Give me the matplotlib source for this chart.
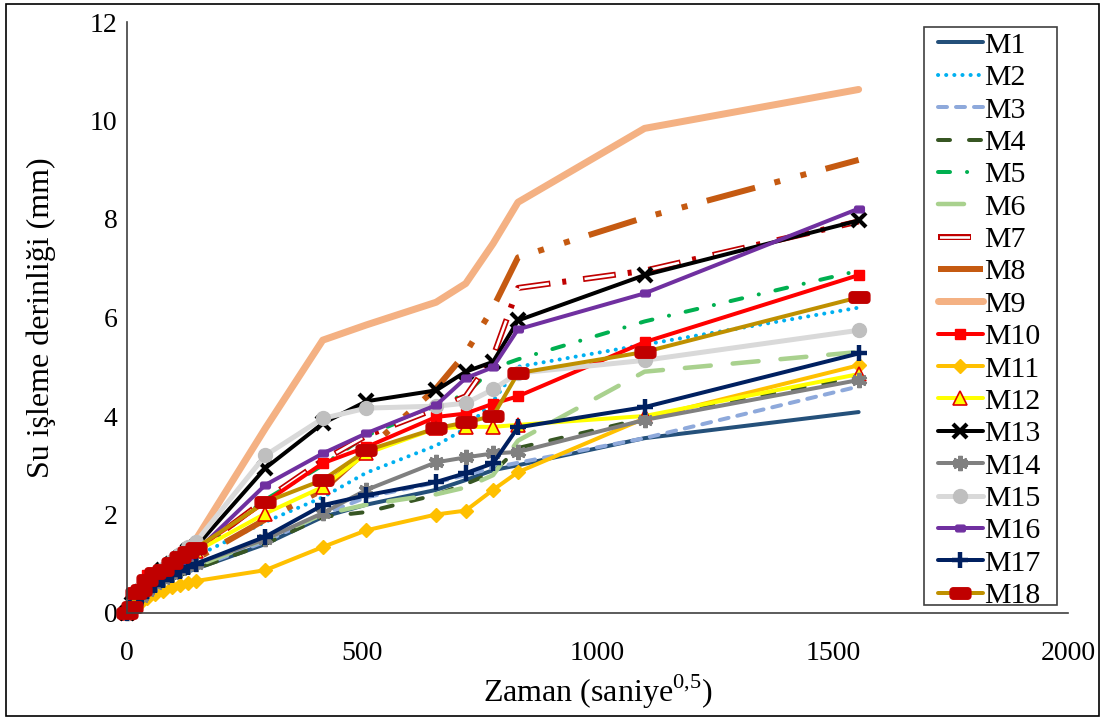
import numpy as np
import matplotlib
matplotlib.use("Agg")
import matplotlib.pyplot as plt
from matplotlib.patches import Rectangle

plt.rcParams['font.family'] = ['Liberation Serif', 'DejaVu Serif']
plt.rcParams['mathtext.fontset'] = 'custom'
plt.rcParams['mathtext.rm'] = 'Liberation Serif'
plt.rcParams['lines.scale_dashes'] = False

# zaman (saniye^0.5)
x = [0, 10, 20, 30, 42, 60, 77, 95, 112, 130, 147,
     294, 416, 509, 657, 720, 778, 831, 1100, 1555]

m1 = [0, 0.1, 0.2, 0.28, 0.38, 0.5, 0.6, 0.68, 0.76, 0.84, 0.9,
      1.4, 1.95, 2.2, 2.5, 2.7, 2.9, 3.0, 3.55, 4.08]
m2 = [0, 0.12, 0.25, 0.35, 0.48, 0.62, 0.75, 0.88, 0.98, 1.08, 1.15,
      1.85, 2.35, 2.85, 3.4, 3.75, 4.3, 5.0, 5.45, 6.2]
m3 = [0, 0.1, 0.2, 0.3, 0.4, 0.52, 0.62, 0.7, 0.78, 0.86, 0.92,
      1.45, 2.0, 2.35, 2.65, 2.8, 2.95, 3.05, 3.55, 4.6]
m4 = [0, 0.1, 0.2, 0.28, 0.38, 0.5, 0.6, 0.68, 0.76, 0.84, 0.9,
      1.4, 1.95, 2.05, 2.4, 2.62, 2.85, 3.35, 3.95, 4.8]
m5 = [0, 0.15, 0.28, 0.38, 0.52, 0.66, 0.8, 0.92, 1.02, 1.12, 1.2,
      2.3, 3.0, 3.6, 4.2, 4.45, 4.97, 5.15, 5.92, 6.95]
m6 = [0, 0.1, 0.2, 0.3, 0.4, 0.52, 0.62, 0.7, 0.8, 0.88, 0.95,
      1.5, 2.0, 2.2, 2.41, 2.55, 2.8, 3.5, 4.9, 5.3]
m7 = [0, 0.15, 0.3, 0.4, 0.55, 0.7, 0.82, 0.95, 1.05, 1.15, 1.25,
      2.3, 3.1, 3.6, 4.15, 4.4, 5.2, 6.6, 6.95, 7.95]
m8 = [0, 0.12, 0.25, 0.35, 0.48, 0.62, 0.75, 0.86, 0.95, 1.03, 1.1,
      1.9, 2.5, 3.3, 4.56, 5.28, 6.2, 7.22, 8.03, 9.2]
m9 = [0, 0.2, 0.35, 0.45, 0.6, 0.78, 0.92, 1.08, 1.22, 1.38, 1.5,
      3.75, 5.54, 5.85, 6.31, 6.69, 7.5, 8.34, 9.84, 10.63]
m10 = [0, 0.2, 0.35, 0.45, 0.78, 0.72, 0.85, 0.98, 1.1, 1.2, 1.3,
       2.25, 3.04, 3.37, 3.98, 4.05, 4.25, 4.4, 5.5, 6.86]
m11 = [0, 0.08, 0.15, 0.22, 0.3, 0.38, 0.45, 0.52, 0.56, 0.6, 0.65,
       0.87, 1.34, 1.68, 2.0, 2.08, 2.5, 2.86, 3.95, 5.03]
m12 = [0, 0.15, 0.3, 0.4, 0.55, 0.68, 0.82, 0.95, 1.05, 1.15, 1.25,
       2.02, 2.56, 3.24, 3.75, 3.78, 3.78, 3.82, 4.0, 4.85]
m13 = [0, 0.18, 0.32, 0.42, 0.58, 0.72, 0.88, 1.0, 1.12, 1.25, 1.35,
       2.94, 3.85, 4.3, 4.52, 4.9, 5.1, 5.94, 6.86, 7.97]
m14 = [0, 0.12, 0.22, 0.32, 0.45, 0.58, 0.7, 0.8, 0.88, 0.95, 1.0,
       1.5, 2.03, 2.5, 3.06, 3.16, 3.24, 3.27, 3.92, 4.73]
m15 = [0, 0.2, 0.35, 0.45, 0.6, 0.76, 0.9, 1.05, 1.2, 1.35, 1.45,
       3.2, 3.95, 4.16, 4.2, 4.26, 4.54, 4.87, 5.13, 5.74]
m16 = [0, 0.15, 0.3, 0.4, 0.55, 0.7, 0.82, 0.95, 1.05, 1.15, 1.25,
       2.6, 3.24, 3.65, 4.22, 4.77, 4.99, 5.76, 6.49, 8.21]
m17 = [0, 0.12, 0.22, 0.32, 0.45, 0.56, 0.68, 0.78, 0.86, 0.94, 1.0,
       1.55, 2.19, 2.39, 2.66, 2.84, 3.04, 3.77, 4.18, 5.27]
m18 = [0, 0.12, 0.4, 0.47, 0.67, 0.81, 0.87, 1.01, 1.14, 1.24, 1.32,
       2.25, 2.7, 3.3, 3.75, 3.87, 4.0, 4.87, 5.3, 6.41]

labels = ["M%d" % i for i in range(1, 19)]


def oblong(w, h, r):
    # rounded rectangle marker
    t = np.linspace(0, np.pi / 2, 6)
    pts = []
    for cx, cy, a in [(w - r, h - r, 0), (-w + r, h - r, np.pi / 2),
                      (-w + r, -h + r, np.pi), (w - r, -h + r, 1.5 * np.pi)]:
        for tt in t:
            pts.append((cx + r * np.cos(tt + a), cy + r * np.sin(tt + a)))
    pts.append(pts[0])
    return pts


star = (6, 2, 0)
pt = 1 / 1.389  # px -> pt

fig = plt.figure(figsize=(11.05, 7.2), dpi=100)
ax = fig.add_axes([127 / 1105, 1 - 613 / 720, (1068 - 127) / 1105, (613 - 22) / 720])

lw = 4 * pt
h = {}
kw = dict(clip_on=False, solid_capstyle='round', solid_joinstyle='round',
          dash_capstyle='round', dash_joinstyle='round')

h[1], = ax.plot(x, m1, color='#24507A', lw=lw, **kw)
h[2], = ax.plot(x, m2, color='#00B0F0', lw=lw, dashes=(0.1, 8 * pt), **kw)
h[3], = ax.plot(x, m3, color='#8EA9DB', lw=lw, dashes=(9 * pt, 9 * pt), **kw)
h[4], = ax.plot(x, m4, color='#375623', lw=lw, dashes=(12 * pt, 19 * pt), **kw)
h[5], = ax.plot(x, m5, color='#00B050', lw=lw,
                dashes=(12 * pt, 17 * pt, 0.1, 17 * pt), **kw)
h[6], = ax.plot(x, m6, color='#A9D18E', lw=4.5 * pt, dashes=(26 * pt, 22 * pt), **kw)
# M7: hollow dash-dot line (red outline, white core)
r7, = ax.plot(x, m7, color='#C00000', lw=6 * pt, clip_on=False,
              dashes=(33 * pt, 12 * pt, 4 * pt, 17 * pt))
w7, = ax.plot(x, m7, color='white', lw=2.6 * pt, clip_on=False,
              linestyle=(64.5 * pt, (30 * pt, 36 * pt)))
h[7] = (r7, w7)
h[8], = ax.plot(x, m8, color='#C55A11', lw=6 * pt, clip_on=False,
                dashes=(50 * pt, 20 * pt, 6 * pt, 21 * pt, 6 * pt, 20 * pt))
h[9], = ax.plot(x, m9, color='#F4B183', lw=7 * pt, **kw)
h[10], = ax.plot(x, m10, color='#FF0000', lw=lw, marker='s', ms=7,
                 mfc='#FF0000', mec='#FF0000', **kw)
h[11], = ax.plot(x, m11, color='#FFC000', lw=lw, marker='D', ms=7.5,
                 mfc='#FFC000', mec='#FFC000', **kw)
h[12], = ax.plot(x, m12, color='#FFFF00', lw=lw, marker='^', ms=10,
                 mfc='#FFFF00', mec='#E00000', mew=1.2, **kw)
h[13], = ax.plot(x, m13, color='black', lw=lw, marker='x', ms=10,
                 mec='black', mew=3, **kw)
h[14], = ax.plot(x, m14, color='#808080', lw=lw, marker=star, ms=11,
                 mec='#808080', mew=3, **kw)
h[15], = ax.plot(x, m15, color='#D9D9D9', lw=5 * pt, marker='o', ms=10,
                 mfc='#BFBFBF', mec='#BFBFBF', **kw)
h[16], = ax.plot(x, m16, color='#7030A0', lw=lw, marker=oblong(1.3, 0.9, 0.45), ms=7,
                 mfc='#7030A0', mec='#7030A0', **kw)
h[17], = ax.plot(x, m17, color='#002060', lw=lw, marker='+', ms=11,
                 mec='#002060', mew=3.2, **kw)
h[18], = ax.plot(x, m18, color='#BF9000', lw=lw, marker=oblong(1.0, 0.55, 0.3), ms=15,
                 mfc='#C00000', mec='#C00000', **kw)

ax.set_xlim(0, 2000)
ax.set_ylim(0, 12)
ax.set_xticks([0, 500, 1000, 1500, 2000])
ax.set_yticks(np.arange(0, 13, 2))
ax.tick_params(length=0, labelsize=20)
ax.tick_params(axis='x', pad=20)
ax.tick_params(axis='y', pad=7)
for s in ['top', 'right']:
    ax.spines[s].set_visible(False)
for s in ['left', 'bottom']:
    ax.spines[s].set_color('#404040')
    ax.spines[s].set_linewidth(1.2)

ax.set_xlabel('Zaman (saniye$^{0{,}5}$)', fontsize=23, labelpad=5)
ax.set_ylabel('Su işleme derinliği (mm)', fontsize=23, labelpad=24)

leg = ax.legend([h[i] for i in range(1, 19)], labels,
                loc='upper left', bbox_to_anchor=(938 / 1105, 1 - 32 / 720),
                bbox_transform=fig.transFigure, frameon=False, fontsize=21.5,
                borderpad=0, borderaxespad=0, handlelength=1.5,
                handletextpad=0.05, labelspacing=0.183)
fig.add_artist(Rectangle((924 / 1105, 1 - 605 / 720), 133 / 1105, 578 / 720,
                         transform=fig.transFigure, fill=False,
                         ec='#404040', lw=1.2))
fig.add_artist(Rectangle((6 / 1105, 4 / 720), 1093 / 1105, 712 / 720,
                         transform=fig.transFigure, fill=False,
                         ec='black', lw=1.2))

fig.savefig('out.png', dpi=100)
